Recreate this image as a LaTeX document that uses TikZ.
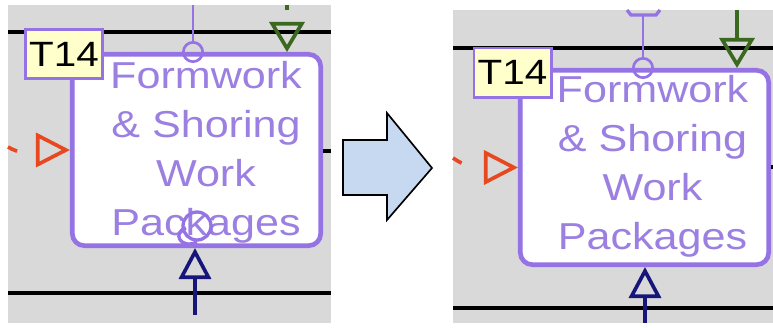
\documentclass[tikz,border=0pt]{standalone}
\usepackage{fontspec}
\setmainfont{Liberation Sans}
\newfontfamily\widesans[FakeStretch=1.15]{Liberation Sans}
\usetikzlibrary{arrows.meta}

\definecolor{wpPurple}{RGB}{150,115,228}
\definecolor{wpText}{RGB}{155,128,226}
\definecolor{wpGreen}{RGB}{58,104,30}
\definecolor{wpOrange}{RGB}{232,72,32}
\definecolor{wpNavy}{RGB}{22,22,122}
\definecolor{wpGray}{RGB}{217,217,217}
\definecolor{wpYellow}{RGB}{255,255,204}
\definecolor{wpArrow}{RGB}{198,217,240}

\tikzset{
  card/.style={draw=wpPurple, line width=0.14cm, rounded corners=0.36cm, fill=white,
    minimum width=7.45cm, minimum height=5.74cm, inner sep=0},
  tag/.style={draw=wpPurple, line width=0.08cm, fill=wpYellow, minimum width=2.32cm,
    minimum height=1.48cm, inner sep=0, font=\widesans\fontsize{30}{30}\selectfont},
  cardtext/.style={align=center, inner sep=0, text=wpText,
    font=\widesans\fontsize{32}{41.8}\selectfont},
  lane/.style={line width=0.1cm},
  ctrlline/.style={wpPurple, line width=0.08cm, -{Circle[open,length=0.66cm]}, shorten >=-0.33cm},
  toolline/.style={wpGreen, line width=0.11cm, -{Triangle[open,length=0.9cm,width=1.05cm]}},
  feedline/.style={wpOrange, line width=0.11cm, dash pattern=on 0.3cm off 1.2cm,
    -{Triangle[open,length=1.02cm,width=1.02cm]}},
  mechline/.style={wpNavy, line width=0.11cm, -{Triangle[open,length=0.93cm,width=0.96cm]}},
}

\begin{document}
\begin{tikzpicture}[x=0.03cm, y=-0.03cm]
  \useasboundingbox (0,0) rectangle (773,327);

  % before
  \fill[wpGray] (8,5) rectangle (331,323);
  \draw[lane] (8,32) -- (331,32);
  \draw[lane] (8,293) -- (331,293);
  \node[card] (lcard) at (196.5,150) {};
  \coordinate (lctrl) at (193,5);
  \coordinate (ltool) at (287,5);
  \coordinate (lfeed) at (8,147);
  \coordinate (lbase) at (195,315);
  \coordinate (lexit) at (331,151);
  \draw[ctrlline] (lctrl) -- (lctrl |- lcard.north);
  \draw[toolline, dash pattern=on 0.15cm off 1cm] (ltool) -- (ltool |- lcard.north);
  \draw[feedline] (lfeed) to[out=-30,in=180] (lcard.west);
  \draw[mechline] (lbase) -- (lbase |- lcard.south);
  \draw[lane] (lcard.east |- lexit) -- (lexit);
  \node[cardtext] (ltext) at (206,152) {Formwork\\\& Shoring\\Work\\Packages};
  \node[tag] (ltag) at (64,54) {T14};
  \draw[wpPurple, line width=0.1cm] (197,226) circle[radius=14];
  \draw[wpPurple, line width=0.1cm] (197,242) .. controls (180,250) and (172,232) .. (186,228);

  % arrow
  \draw[fill=wpArrow, line width=0.05cm, line join=miter]
    (343,140) -- (387,140) -- (387,113) -- (432,168) -- (387,220) -- (387,195) -- (343,195) -- cycle;

  % after
  \fill[wpGray] (453,10) rectangle (773,323);
  \draw[lane] (453,48) -- (773,48);
  \draw[lane] (453,308) -- (773,308);
  \draw[wpPurple, line width=0.1cm] (627,10) -- (631,15) -- (656,15) -- (660,10);
  \node[card, minimum height=5.83cm] (rcard) at (644.5,167.5) {};
  \coordinate (rctrl) at (643,15);
  \coordinate (rtool) at (737,10);
  \coordinate (rfeed) at (453,158);
  \coordinate (rbase) at (645,323);
  \coordinate (rexit) at (773,167);
  \draw[ctrlline] (rctrl) -- (rctrl |- rcard.north);
  \draw[toolline] (rtool) -- (rtool |- rcard.north);
  \draw[feedline] (rfeed) to[out=-35,in=180] (rcard.west);
  \draw[mechline] (rbase) -- (rbase |- rcard.south);
  \draw[lane] (rcard.east |- rexit) -- (rexit);
  \node[cardtext] (rtext) at (652.5,166) {Formwork\\\& Shoring\\Work\\Packages};
  \node[tag] (rtag) at (512.5,72.5) {T14};
\end{tikzpicture}
\end{document}
